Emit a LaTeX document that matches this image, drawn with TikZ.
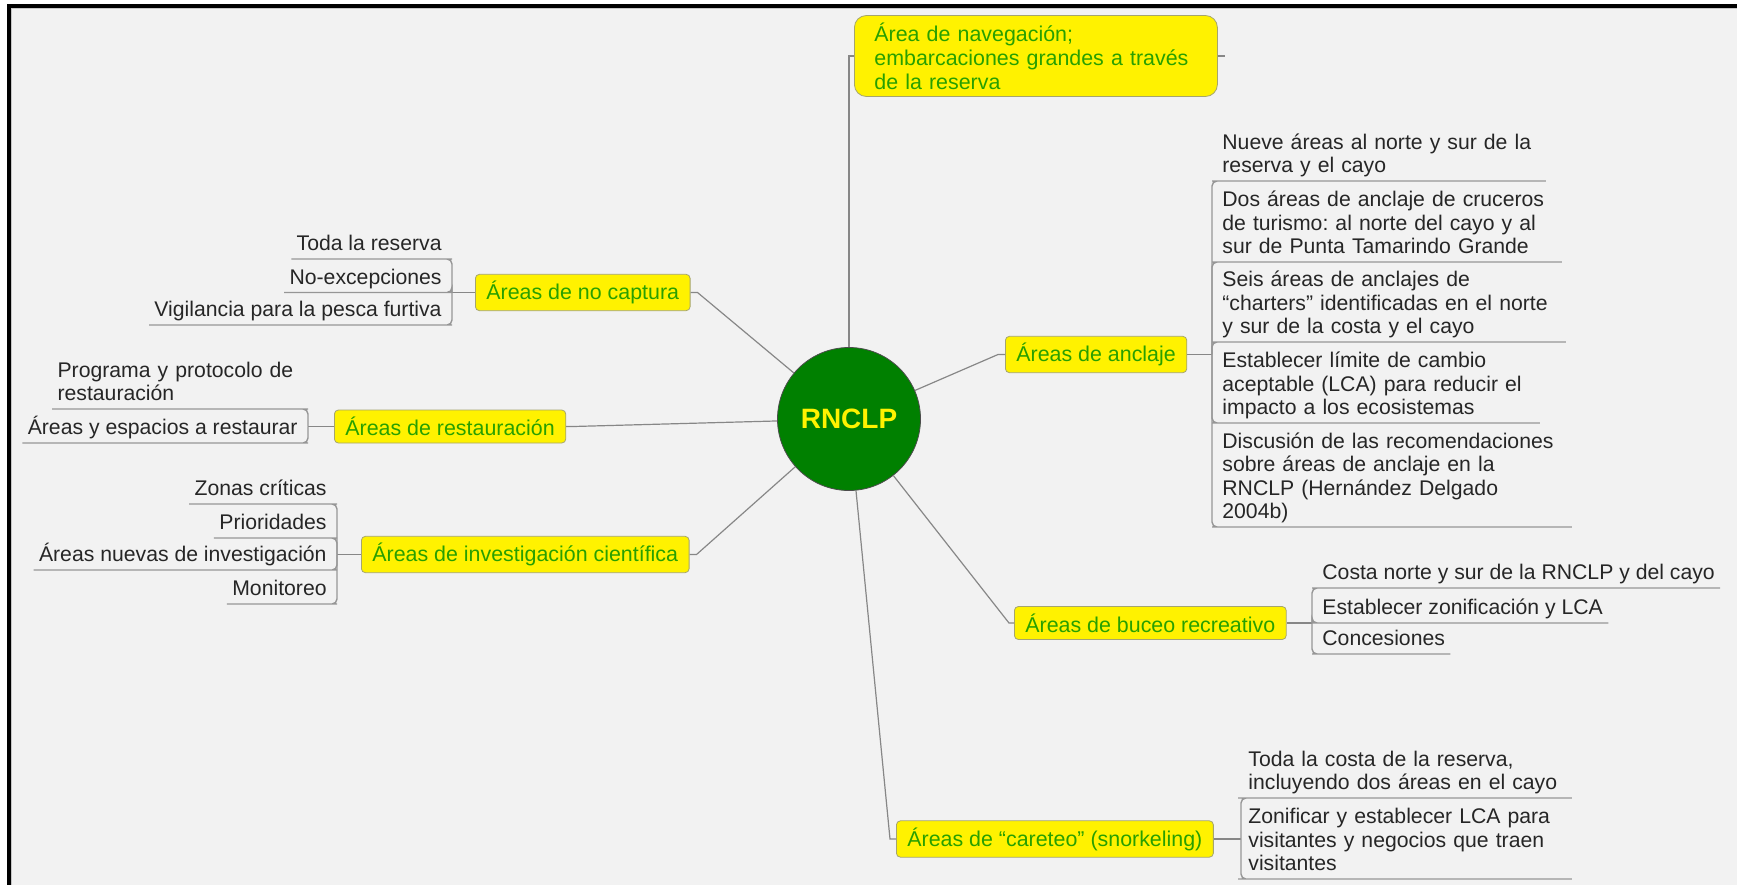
\documentclass[tikz,border=0pt]{standalone}
\usepackage{fontspec}
\setmainfont{Liberation Sans}
\usetikzlibrary{positioning}
\definecolor{paper}{RGB}{242,242,242}
\definecolor{topicgreen}{RGB}{40,160,0}
\definecolor{topicedge}{RGB}{165,165,110}
\definecolor{linegray}{RGB}{135,135,135}
\definecolor{leafgray}{RGB}{150,150,150}
\definecolor{rootgreen}{RGB}{0,128,0}
\frenchspacing

\begin{document}
\begin{tikzpicture}[x=0.5pt,y=-0.5pt,
		topic/.style={draw=topicedge,fill=yellow,text=topicgreen,rounded corners=2pt,inner xsep=5.5pt,minimum height=16.5pt,font=\fontsize{10.7pt}{12pt}\selectfont},
		leaf/.style={inner xsep=2.5pt,inner ysep=0.5pt,text=black!85,align=left,font=\fontsize{10.6pt}{11.7pt}\selectfont,execute at end node=\strut},
		branch/.style={draw=linegray,line width=0.6pt},
		bracket/.style={draw=leafgray,line width=0.7pt,rounded corners=2.5pt}]
	\fill[white](0,0)rectangle(1737,885);
	\fill[black](7,4)rectangle(1737,885);
	\fill[gray!45](11,8)rectangle(1737,885);
	\fill[paper](12,9)rectangle(1737,885);
	\useasboundingbox(0,0)rectangle(1737,885);

	\node[circle,fill=rootgreen,draw=gray!60!black,minimum size=71.5pt,inner sep=0pt,text=yellow,font=\fontsize{14pt}{14pt}\selectfont\bfseries](rnclp)at(849,419){RNCLP};

	\node[topic,anchor=west,rounded corners=6pt,inner xsep=10pt,minimum height=40.5pt,text width=161.5pt,align=left](nav)at(854,56){Área de navegación;\\embarcaciones grandes a través\\de la reserva};
	\node[topic,anchor=west](nocap)at(475,292.5){Áreas de no captura};
	\node[topic,anchor=west](resta)at(334,426.5){Áreas de restauración};
	\node[topic,anchor=west](invest)at(361,554.5){Áreas de investigación científica};
	\node[topic,anchor=west](anclaje)at(1005,354.5){Áreas de anclaje};
	\node[topic,anchor=west](buceo)at(1014,623){Áreas de buceo recreativo};
	\node[topic,anchor=west](careteo)at(896,839){Áreas de “careteo” (snorkeling)};

	\draw[branch](rnclp)|-(nav.west);
	\draw[branch](nav.east)--++(7,0);
	\draw[branch](nocap.east)--++(7,0)--(rnclp);
	\draw[branch](resta.east)--++(7,0)--(rnclp);
	\draw[branch](invest.east)--++(7,0)--(rnclp);
	\draw[branch](anclaje.west)--++(-7,0)--(rnclp);
	\draw[branch](buceo.west)--++(-5,0)--(rnclp);
	\draw[branch](careteo.west)--++(-6,0)--(rnclp);

	\coordinate(jnocap)at(452,292.5);
	\node[leaf,anchor=south east](nocap1)at(447,259){Toda la reserva};
	\node[leaf,anchor=south east](nocap2)at(447,292.5){No-excepciones};
	\node[leaf,anchor=south east](nocap3)at(447,325){Vigilancia para la pesca furtiva};
	\draw[branch](nocap.west)--(jnocap);
	\draw[bracket](jnocap)|-(nocap1.south east)--(nocap1.south west);
	\draw[bracket](jnocap)|-(nocap2.south east)--(nocap2.south west);
	\draw[bracket](jnocap)|-(nocap3.south east)--(nocap3.south west);

	\coordinate(jresta)at(308,426.5);
	\node[leaf,anchor=south east,text width=120pt](resta1)at(303,409){Programa y protocolo de\\restauración};
	\node[leaf,anchor=south east](resta2)at(303,443){Áreas y espacios a restaurar};
	\draw[branch](resta.west)--(jresta);
	\draw[bracket](jresta)|-(resta1.south east)--(resta1.south west);
	\draw[bracket](jresta)|-(resta2.south east)--(resta2.south west);

	\coordinate(jinvest)at(337,554.5);
	\node[leaf,anchor=south east](invest1)at(332,504){Zonas críticas};
	\node[leaf,anchor=south east](invest2)at(332,538){Prioridades};
	\node[leaf,anchor=south east](invest3)at(332,570){Áreas nuevas de investigación};
	\node[leaf,anchor=south east](invest4)at(332,604){Monitoreo};
	\draw[branch](invest.west)--(jinvest);
	\draw[bracket](jinvest)|-(invest1.south east)--(invest1.south west);
	\draw[bracket](jinvest)|-(invest2.south east)--(invest2.south west);
	\draw[bracket](jinvest)|-(invest3.south east)--(invest3.south west);
	\draw[bracket](jinvest)|-(invest4.south east)--(invest4.south west);

	\coordinate(janclaje)at(1212,354.5);
	\node[leaf,anchor=south west,text width=159pt](anclaje1)at(1217,181){Nueve áreas al norte y sur de la\\reserva y el cayo};
	\node[leaf,anchor=south west,text width=167pt](anclaje2)at(1217,262){Dos áreas de anclaje de cruceros\\de turismo: al norte del cayo y al\\sur de Punta Tamarindo Grande};
	\node[leaf,anchor=south west,text width=169pt](anclaje3)at(1217,342){Seis áreas de anclajes de\\“charters” identificadas en el norte\\y sur de la costa y el cayo};
	\node[leaf,anchor=south west,text width=156pt](anclaje4)at(1217,423){Establecer límite de cambio\\aceptable (LCA) para reducir el\\impacto a los ecosistemas};
	\node[leaf,anchor=south west,text width=172pt](anclaje5)at(1217,527){Discusión de las recomendaciones\\sobre áreas de anclaje en la\\RNCLP (Hernández Delgado\\2004b)};
	\draw[branch](anclaje.east)--(janclaje);
	\draw[bracket](janclaje)|-(anclaje1.south west)--(anclaje1.south east);
	\draw[bracket](janclaje)|-(anclaje2.south west)--(anclaje2.south east);
	\draw[bracket](janclaje)|-(anclaje3.south west)--(anclaje3.south east);
	\draw[bracket](janclaje)|-(anclaje4.south west)--(anclaje4.south east);
	\draw[bracket](janclaje)|-(anclaje5.south west)--(anclaje5.south east);

	\coordinate(jbuceo)at(1312,623);
	\node[leaf,anchor=south west](buceo1)at(1317,588){Costa norte y sur de la RNCLP y del cayo};
	\node[leaf,anchor=south west](buceo2)at(1317,623){Establecer zonificación y LCA};
	\node[leaf,anchor=south west](buceo3)at(1317,654){Concesiones};
	\draw[branch](buceo.east)--(jbuceo);
	\draw[bracket](jbuceo)|-(buceo1.south west)--(buceo1.south east);
	\draw[bracket](jbuceo)|-(buceo2.south west)--(buceo2.south east);
	\draw[bracket](jbuceo)|-(buceo3.south west)--(buceo3.south east);

	\coordinate(jcareteo)at(1241,839);
	\node[leaf,anchor=south west,text width=159pt](careteo1)at(1243,798){Toda la costa de la reserva,\\incluyendo dos áreas en el cayo};
	\node[leaf,anchor=south west,text width=159pt](careteo2)at(1243,879){Zonificar y establecer LCA para\\visitantes y negocios que traen\\visitantes};
	\draw[branch](careteo.east)--(jcareteo);
	\draw[bracket](jcareteo)|-(careteo1.south west)--(careteo1.south east);
	\draw[bracket](jcareteo)|-(careteo2.south west)--(careteo2.south east);
\end{tikzpicture}
\end{document}
